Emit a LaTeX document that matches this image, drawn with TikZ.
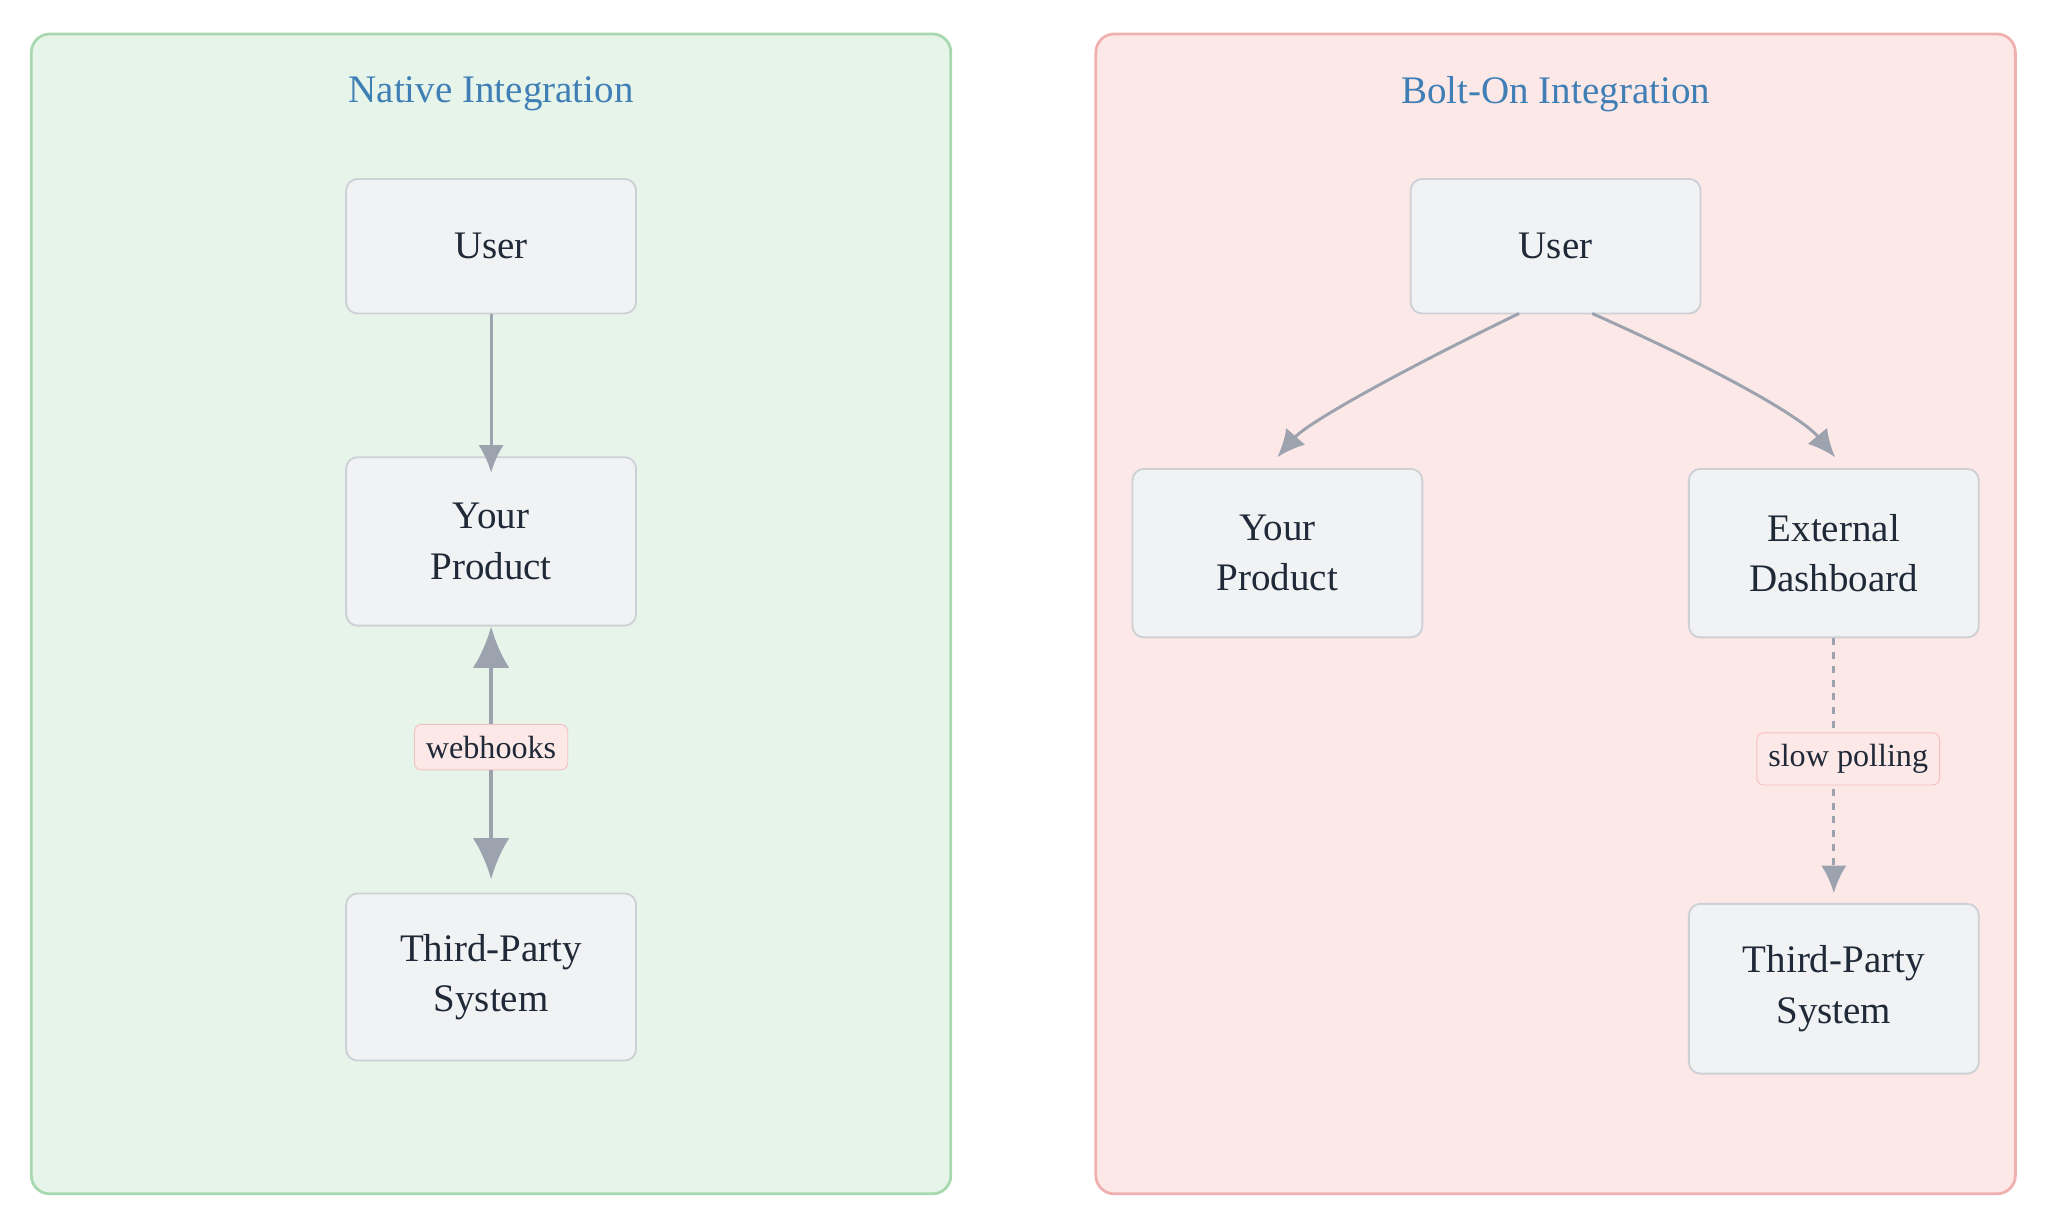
\documentclass[tikz,border=0pt]{standalone}
\usepackage{fontspec}
\setmainfont{Liberation Serif}
\usetikzlibrary{arrows.meta}
\definecolor{gfill}{HTML}{E6F4EA}\definecolor{gline}{HTML}{A8D8B0}
\definecolor{rfill}{HTML}{FDE8E8}\definecolor{rline}{HTML}{F0B0B0}
\definecolor{bfill}{HTML}{F1F2F4}\definecolor{bline}{HTML}{CDD0D5}
\definecolor{arr}{HTML}{9CA3AF}\definecolor{ttl}{HTML}{3F7FB5}\definecolor{txt}{HTML}{1F2937}
\definecolor{lline}{HTML}{F5C0C0}
\begin{document}
\begin{tikzpicture}[x=0.02cm,y=-0.02cm,
 panel/.style={draw=#1,line width=1.2pt,rounded corners=8pt},
 box/.style={draw=bline,fill=bfill,rounded corners=5pt,minimum width=4.44cm,line width=0.8pt,align=center,font=\fontsize{17}{22}\selectfont,text=txt},
 lbl/.style={draw=lline,fill=rfill,rounded corners=3pt,font=\fontsize{14}{16}\selectfont,text=txt,inner sep=5pt},
 ttlst/.style={text=ttl,font=\fontsize{17}{20}\selectfont},
 a/.style={draw=arr,line width=1.3pt,-{Latex[length=12pt,width=11pt]}}]
\useasboundingbox (0,0) rectangle (1568,938);
\fill[white] (0,0) rectangle (1568,938);
\draw[panel=gline,fill=gfill] (24,26) rectangle (728,914);
\draw[panel=rline,fill=rfill] (839,26) rectangle (1543,914);
\node[ttlst] (t1) at (376,72) {Native Integration};
\node[ttlst] (t2) at (1191,72) {Bolt-On Integration};
\node[box,minimum height=2.06cm] (u1) at (376,188.5) {User};
\node[box,minimum height=2.58cm] (p1) at (376,414.5) {Your\\Product};
\node[box,minimum height=2.56cm] (s1) at (376,748) {Third-Party\\System};
\node[box,minimum height=2.06cm] (u2) at (1191,188.5) {User};
\node[box,minimum height=2.58cm] (p2) at (978,423.5) {Your\\Product};
\node[box,minimum height=2.58cm] (e2) at (1404,423.5) {External\\Dashboard};
\node[box,minimum height=2.6cm] (s2) at (1404,757) {Third-Party\\System};
\draw[a] (u1) -- ([yshift=-0.25cm]p1.north);
\node[lbl] (w) at (376,572) {webhooks};
\draw[a,line width=2pt,-{Latex[length=18pt,width=16pt]}] (w) -- (p1);
\draw[a,line width=2pt,-{Latex[length=18pt,width=16pt]}] (w) -- ([yshift=0.2cm]s1.north);
\draw[a] (1163,240) .. controls (1060,290) and (1000,325) .. (978,350);
\draw[a] (1219,240) .. controls (1320,285) and (1380,320) .. (1405,350);
\node[lbl] (sp) at (1415,581) {slow polling};
\draw[draw=arr,line width=1.3pt,dashed] (e2.south) -- (1404,558);
\draw[a,dashed] (1404,604) -- ([yshift=0.15cm]s2.north);
\end{tikzpicture}
\end{document}
